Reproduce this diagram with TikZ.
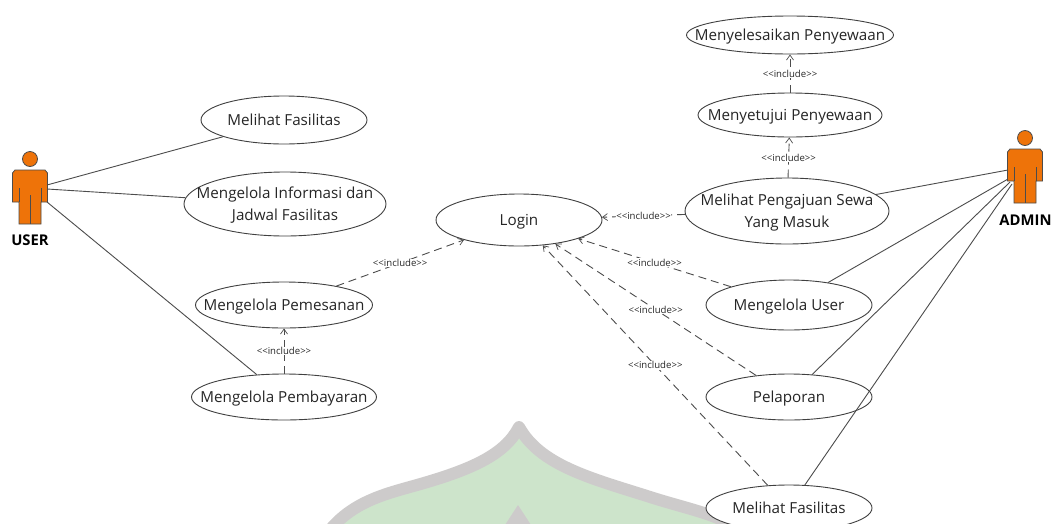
\documentclass[tikz,border=0pt]{standalone}
\usepackage{fontspec}
\setmainfont{Open Sans}
\usetikzlibrary{arrows.meta,shapes.geometric}
\definecolor{wmgrey}{HTML}{CDCBCB}
\definecolor{wmgreen}{HTML}{CDE4CB}
\definecolor{actor}{HTML}{EE7309}
\tikzset{
 x=1pt,y=-1pt,
 uc/.style={draw=black!75,line width=.9pt,fill=white,ellipse,minimum width=#1,font=\fontsize{15.2}{22}\selectfont,inner xsep=-32pt,inner ysep=-14pt,text=black!85},
 assoc/.style={draw=black!70,line width=.9pt},
 inc/.style={draw=black!70,line width=.9pt,dash pattern=on 8pt off 5pt,-{Straight Barb[length=5pt,width=7pt,line width=.7pt]}},
 inclabel/.style={font=\fontsize{9.6}{11}\selectfont,fill=white,inner sep=.5pt,text=black!85},
 actorname/.style={font=\bfseries\fontsize{14.8}{17}\selectfont},
}
\newcommand{\actorfig}[2]{%
 \begin{scope}[shift={(#1,#2)}]
  \fill[actor,draw=black!70,line width=.8pt] (0,-16) circle (7.5);
  \fill[actor,draw=black!70,line width=.8pt] (-17.5,-2) -- (-15,-5) -- (15,-5) -- (17.5,-2) -- (17.5,27) -- (11,27) -- (11,49) -- (-11,49) -- (-11,27) -- (-17.5,27) -- cycle;
  \draw[black!70,line width=.8pt] (-11,13) -- (-11,27) (11,13) -- (11,27) (0,20) -- (0,49);
 \end{scope}}
\newcommand{\inctext}{{<}{<}include{>}{>}}
\newcommand{\uct}[1]{\raisebox{-1.5pt}[\height][\depth]{\begin{tabular}{@{}c@{}}#1\end{tabular}}}
\begin{document}
\begin{tikzpicture}
\useasboundingbox (0,0) rectangle (1054,523);
\fill[white] (0,0) rectangle (1054,523);
% watermark
\path[fill=wmgreen,draw=wmgrey,line width=12pt,line join=round]
 (519,427) .. controls (505,455) and (470,470) .. (417,485)
 .. controls (385,494) and (350,502) .. (326,535)
 -- (745,535)
 .. controls (725,515) and (690,510) .. (647,496)
 .. controls (590,478) and (540,465) .. (519,427) -- cycle;
\fill[wmgrey] (518,505) -- (531,525) -- (505,525) -- cycle;
% actors
\actorfig{30}{175}
\actorfig{1025}{154}
\node[actorname] (userlabel) at (30,240) {USER};
\node[actorname] (adminlabel) at (1025.5,220) {ADMIN};
\coordinate (user1) at (47,185);
\coordinate (user2) at (47,189);
\coordinate (user3) at (47,202);
\coordinate (admin1) at (1008,170);
\coordinate (admin2) at (1008,179);
\coordinate (admin3) at (1010,182);
\coordinate (admin4) at (1012,184);
% use cases
\node[uc=166pt,minimum height=48pt] (fas) at (284,120) {\uct{Melihat Fasilitas}};
\node[uc=202pt,minimum height=64pt] (info) at (285,204) {\uct{Mengelola Informasi dan\\Jadwal Fasilitas}};
\node[uc=177pt,minimum height=46pt] (pesan) at (284,305) {\uct{Mengelola Pemesanan}};
\node[uc=185pt,minimum height=46pt] (bayar) at (284,397) {\uct{Mengelola Pembayaran}};
\node[uc=166pt,minimum height=52pt] (login) at (519,220) {\uct{Login}};
\node[uc=207pt,minimum height=38pt] (selesai) at (790,35) {\uct{Menyelesaikan Penyewaan}};
\node[uc=184pt,minimum height=44pt] (setuju) at (790,115) {\uct{Menyetujui Penyewaan}};
\node[uc=204pt,minimum height=66pt] (aju) at (787,211) {\uct{Melihat Pengajuan Sewa\\Yang Masuk}};
\node[uc=166pt,minimum height=50pt] (user) at (789,305) {\uct{Mengelola User}};
\node[uc=166pt,minimum height=46pt] (lapor) at (789,397) {\uct{Pelaporan}};
\node[uc=166pt,minimum height=46pt] (fas2) at (789,508) {\uct{Melihat Fasilitas}};
% associations
\draw[assoc] (user1) -- (fas);
\draw[assoc] (user2) -- (info);
\draw[assoc] (user3) -- (bayar);
\draw[assoc] (admin1) -- (aju);
\draw[assoc] (admin2) -- (user);
\draw[assoc] (admin3) -- (lapor);
\draw[assoc] (admin4) -- (fas2);
% includes
\draw[inc] (setuju) -- node[inclabel]{\inctext} (selesai);
\draw[inc] (aju) -- node[inclabel]{\inctext} (setuju);
\draw[inc] (aju) -- node[inclabel]{\inctext} (login);
\draw[inc] (pesan) -- node[inclabel]{\inctext} (login);
\draw[inc] (bayar) -- node[inclabel]{\inctext} (pesan);
\draw[inc] (user) -- node[inclabel]{\inctext} (login);
\draw[inc] (lapor) -- node[inclabel]{\inctext} (login);
\draw[inc] (fas2) -- node[inclabel]{\inctext} (login);
\end{tikzpicture}
\end{document}
